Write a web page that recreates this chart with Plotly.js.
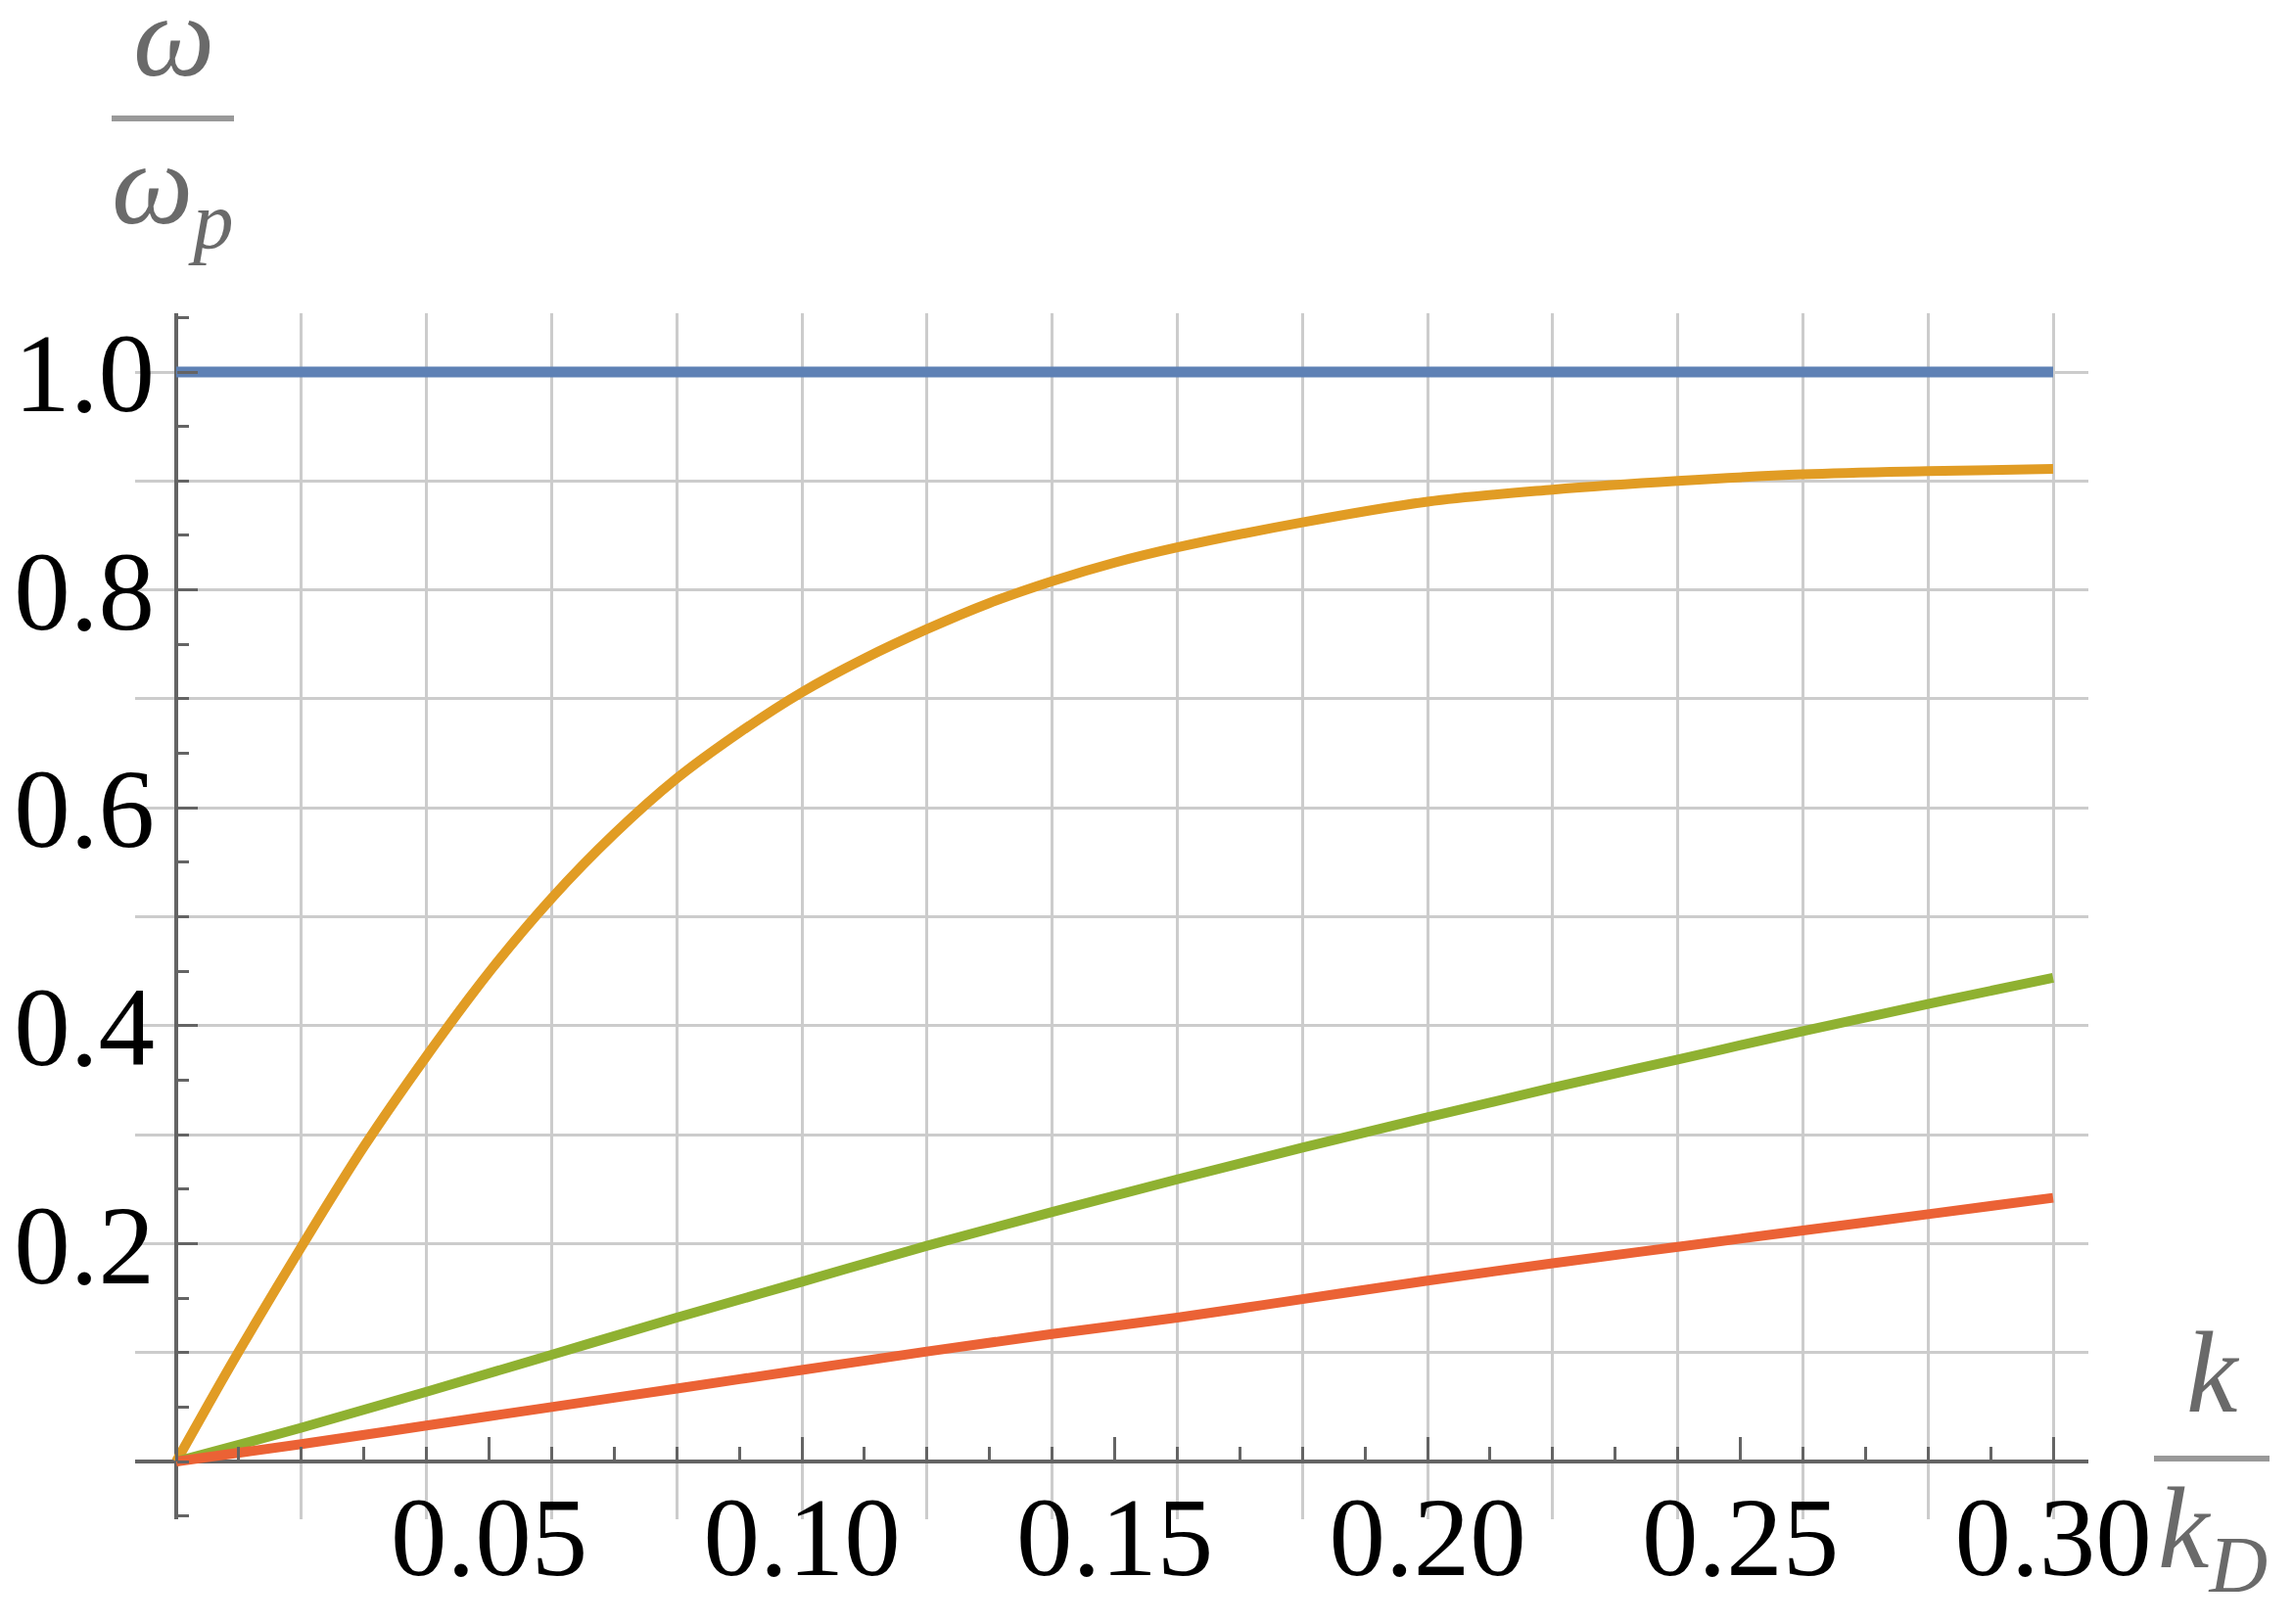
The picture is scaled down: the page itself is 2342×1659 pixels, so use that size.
<!DOCTYPE html>
<html>
<head>
<meta charset="utf-8">
<script src="https://cdn.plot.ly/plotly-3.0.1.min.js"></script>
<style>html,body{margin:0;padding:0;background:#fff;}</style>
</head>
<body>
<div id="chart" style="width:2342px;height:1659px;"></div>
<script>
// ---- data ----
const kBlue = [0, 0.30];
const wBlue = [1.0, 1.0];

const kOrange = [0, 0.005, 0.01, 0.02, 0.03, 0.04, 0.05, 0.06, 0.07, 0.08, 0.09, 0.10, 0.11, 0.12, 0.13, 0.14, 0.15, 0.16, 0.18, 0.20, 0.22, 0.24, 0.26, 0.28, 0.30];
const wOrange = [0, 0.051, 0.101, 0.197, 0.289, 0.372, 0.449, 0.517, 0.576, 0.627, 0.669, 0.706, 0.737, 0.764, 0.788, 0.808, 0.825, 0.839, 0.862, 0.881, 0.892, 0.900, 0.906, 0.909, 0.911];

const kGreen = [0, 0.02, 0.04, 0.06, 0.08, 0.10, 0.12, 0.14, 0.16, 0.18, 0.20, 0.22, 0.24, 0.26, 0.28, 0.30];
const wGreen = [0, 0.031, 0.064, 0.098, 0.132, 0.165, 0.198, 0.229, 0.259, 0.288, 0.316, 0.343, 0.369, 0.395, 0.420, 0.444];

const kRed = [0, 0.02, 0.04, 0.06, 0.08, 0.10, 0.12, 0.14, 0.16, 0.18, 0.20, 0.22, 0.24, 0.26, 0.28, 0.30];
const wRed = [0, 0.016, 0.033, 0.050, 0.067, 0.084, 0.101, 0.117, 0.132, 0.149, 0.166, 0.182, 0.197, 0.212, 0.227, 0.242];

const xTickVals = [0.05, 0.10, 0.15, 0.20, 0.25, 0.30];
const xTickText = ["0.05", "0.10", "0.15", "0.20", "0.25", "0.30"];
const yTickVals = [0.2, 0.4, 0.6, 0.8, 1.0];
const yTickText = ["0.2", "0.4", "0.6", "0.8", "1.0"];

// ---- layout geometry (pixels) ----
const W = 2342, H = 1659;
const L = 138, R = 2133, T = 320, B = 1552;
const X0 = 180, XPER = 6390;   // x=0 pixel, pixels per unit
const Y0 = 1493, YPER = 1113;  // y=0 pixel, pixels per unit
const xRange = [(L - X0) / XPER, (R - X0) / XPER];
const yRange = [(Y0 - B) / YPER, (Y0 - T) / YPER];
const px = x => (x - L) / (R - L);
const py = y => (B - y) / (B - T);

const AX = '#646464';
const GRID = '#cccccc';
const SERIF = 'Liberation Serif, Times New Roman, serif';
const LW = 10;

const traces = [
  {x: kOrange, y: wOrange, mode: 'lines', line: {color: '#E19C24', width: LW, shape: 'spline', smoothing: 1}, xaxis: 'x', yaxis: 'y', hoverinfo: 'skip', showlegend: false},
  {x: kGreen, y: wGreen, mode: 'lines', line: {color: '#8FB131', width: LW, shape: 'spline', smoothing: 1}, xaxis: 'x', yaxis: 'y', hoverinfo: 'skip', showlegend: false},
  {x: kRed, y: wRed, mode: 'lines', line: {color: '#EB6235', width: LW, shape: 'spline', smoothing: 1}, xaxis: 'x', yaxis: 'y', hoverinfo: 'skip', showlegend: false},
  {x: kBlue, y: wBlue, mode: 'lines', line: {color: '#5E81B5', width: LW + 1}, xaxis: 'x2', yaxis: 'y2', hoverinfo: 'skip', showlegend: false}
];

const tickFont = {family: SERIF, size: 115, color: '#000000'};
const titleFont = {family: SERIF, size: 118, color: '#6a6a6a'};

const layout = {
  width: W, height: H,
  margin: {l: L, r: W - R, t: T, b: H - B, pad: 0},
  paper_bgcolor: '#ffffff',
  plot_bgcolor: '#ffffff',
  showlegend: false,
  hovermode: false,
  xaxis: {
    range: xRange, tickmode: 'linear', tick0: 0, dtick: 0.02,
    showgrid: true, gridcolor: GRID, gridwidth: 3,
    zeroline: true, zerolinecolor: AX, zerolinewidth: 4,
    showticklabels: false, ticks: '', showline: false
  },
  yaxis: {
    range: yRange, tickmode: 'linear', tick0: 0, dtick: 0.1,
    showgrid: true, gridcolor: GRID, gridwidth: 3,
    zeroline: true, zerolinecolor: AX, zerolinewidth: 4,
    showticklabels: false, ticks: '', showline: false
  },
  xaxis2: {
    overlaying: 'x', anchor: 'free', position: py(Y0), side: 'bottom',
    range: xRange, tickmode: 'array', tickvals: xTickVals, ticktext: xTickText,
    ticks: 'inside', ticklen: 25, tickwidth: 3, tickcolor: AX,
    minor: {tickmode: 'linear', tick0: 0, dtick: 0.01, ticks: 'inside', ticklen: 15, tickwidth: 3, tickcolor: AX, showgrid: false},
    showgrid: false, zeroline: false, showline: false,
    tickfont: tickFont
  },
  yaxis2: {
    overlaying: 'y', anchor: 'free', position: px(X0), side: 'left',
    range: yRange, tickmode: 'array', tickvals: yTickVals, ticktext: yTickText,
    ticks: 'inside', ticklen: 21, tickwidth: 3, tickcolor: AX,
    minor: {tickmode: 'linear', tick0: 0, dtick: 0.05, ticks: 'inside', ticklen: 12, tickwidth: 3, tickcolor: AX, showgrid: false},
    showgrid: false, zeroline: false, showline: false,
    ticklabelstandoff: 22,
    tickfont: tickFont
  },
  shapes: [
    {type: 'line', xref: 'paper', yref: 'paper', x0: px(114), x1: px(239), y0: py(121), y1: py(121), line: {color: '#999999', width: 6}},
    {type: 'line', xref: 'paper', yref: 'paper', x0: px(2200), x1: px(2318), y0: py(1490), y1: py(1490), line: {color: '#999999', width: 6}}
  ],
  annotations: [
    {xref: 'paper', yref: 'paper', x: px(177), y: py(37), xanchor: 'center', yanchor: 'middle', showarrow: false, text: '<i>ω</i>', font: titleFont},
    {xref: 'paper', yref: 'paper', x: px(176), y: py(197), xanchor: 'center', yanchor: 'middle', showarrow: false, text: '<i>ω</i><sub><i>p</i></sub>', font: titleFont},
    {xref: 'paper', yref: 'paper', x: px(2260), y: py(1402), xanchor: 'center', yanchor: 'middle', showarrow: false, text: '<i>k</i>', font: titleFont},
    {xref: 'paper', yref: 'paper', x: px(2260), y: py(1570), xanchor: 'center', yanchor: 'middle', showarrow: false, text: '<i>k</i><sub><i>D</i></sub>', font: titleFont}
  ]
};

Plotly.newPlot('chart', traces, layout, {displayModeBar: false, staticPlot: true});
</script>
</body>
</html>
